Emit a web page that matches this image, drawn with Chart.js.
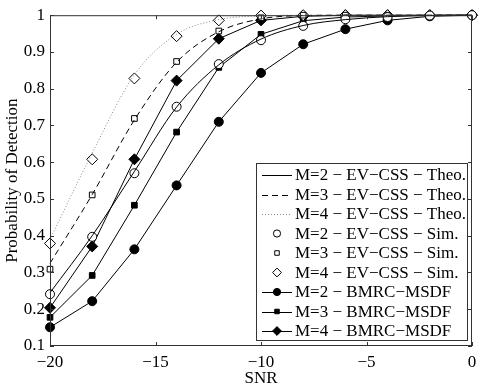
<!DOCTYPE html>
<html>
<head>
<meta charset="utf-8">
<script src="https://cdn.jsdelivr.net/npm/chart.js@4.4.1/dist/chart.umd.min.js"></script>
<style>
  html, body { margin: 0; padding: 0; background: #fff; }
  #wrap { width: 483px; height: 387px; position: relative; }
</style>
</head>
<body>
<div id="wrap"><canvas id="pdChart"></canvas></div>
<script>
// ---- data ----
const snr = [-20, -18, -16, -14, -12, -10, -8, -6, -4, -2, 0];

const theoM2 = [0.245, 0.400, 0.575, 0.750, 0.865, 0.935, 0.972, 0.988, 0.996, 0.999, 1.0];
const theoM3 = [0.325, 0.512, 0.715, 0.872, 0.955, 0.990, 0.999, 1.0, 1.0, 1.0, 1.0];
const theoM4 = [0.390, 0.625, 0.838, 0.948, 0.988, 0.998, 1.0, 1.0, 1.0, 1.0, 1.0];

const simM2 = [0.241, 0.397, 0.570, 0.751, 0.867, 0.932, 0.971, 0.989, 0.995, 0.999, 1.0];
const simM3 = [0.309, 0.511, 0.719, 0.874, 0.957, 0.993, 1.0, 1.0, 1.0, 1.0, 1.0];
const simM4 = [0.379, 0.608, 0.828, 0.943, 0.986, 0.999, 1.0, 1.0, 1.0, 1.0, 1.0];

const bmrcM2 = [0.151, 0.222, 0.363, 0.537, 0.710, 0.843, 0.921, 0.962, 0.986, 0.997, 1.0];
const bmrcM3 = [0.178, 0.292, 0.483, 0.682, 0.858, 0.948, 0.985, 0.995, 0.998, 1.0, 1.0];
const bmrcM4 = [0.204, 0.371, 0.608, 0.822, 0.936, 0.986, 0.997, 1.0, 1.0, 1.0, 1.0];

const xTicks = [-20, -15, -10, -5, 0];
const yTicks = [0.1, 0.2, 0.3, 0.4, 0.5, 0.6, 0.7, 0.8, 0.9, 1];

const seriesLabels = [
    'M=2 \u2212 EV\u2212CSS \u2212 Theo.',
    'M=3 \u2212 EV\u2212CSS \u2212 Theo.',
    'M=4 \u2212 EV\u2212CSS \u2212 Theo.',
    'M=2 \u2212 EV\u2212CSS \u2212 Sim.',
    'M=3 \u2212 EV\u2212CSS \u2212 Sim.',
    'M=4 \u2212 EV\u2212CSS \u2212 Sim.',
    'M=2 \u2212 BMRC\u2212MSDF',
    'M=3 \u2212 BMRC\u2212MSDF',
    'M=4 \u2212 BMRC\u2212MSDF'
];

const FONT = '"Liberation Serif", "Times New Roman", serif';
const FSIZE = 17;
const toXY = arr => snr.map((x, i) => ({ x: x, y: arr[i] }));
const minus = s => String(s).replace('-', '\u2212');

function theo(label, arr, color, dash) {
    return {
        label, data: toXY(arr),
        borderColor: color, borderWidth: 1, borderDash: dash,
        pointRadius: 0, fill: false, cubicInterpolationMode: 'monotone', clip: false
    };
}
function sim(label, arr, style, r) {
    return {
        label, data: toXY(arr), showLine: false,
        pointStyle: style, pointRadius: r, pointBorderWidth: 1,
        pointBorderColor: '#000', pointBackgroundColor: '#fff', clip: false
    };
}
function bmrc(label, arr, style, r) {
    return {
        label, data: toXY(arr), borderColor: '#000', borderWidth: 1, tension: 0,
        pointStyle: style, pointRadius: r, pointBorderWidth: 1,
        pointBorderColor: '#000', pointBackgroundColor: '#000', clip: false
    };
}

const datasets = [
    theo(seriesLabels[0], theoM2, '#000', []),
    theo(seriesLabels[1], theoM3, '#000', [6, 4]),
    theo(seriesLabels[2], theoM4, '#888', [1, 2]),
    sim(seriesLabels[3], simM2, 'circle', 4.5),
    sim(seriesLabels[4], simM3, 'rect', 4),
    sim(seriesLabels[5], simM4, 'rectRot', 5.5),
    bmrc(seriesLabels[6], bmrcM2, 'circle', 4.5),
    bmrc(seriesLabels[7], bmrcM3, 'rect', 4),
    bmrc(seriesLabels[8], bmrcM4, 'rectRot', 5.5)
];

// frame, inner ticks, axis titles and the boxed legend
const decorPlugin = {
    id: 'decor',
    afterDatasetsDraw(chart) {
        const { ctx, chartArea: a, scales } = chart;
        ctx.save();
        ctx.strokeStyle = '#333';
        ctx.lineWidth = 1;
        ctx.strokeRect(a.left + 0.5, a.top + 0.5, a.right - a.left - 1, a.bottom - a.top - 1);
        ctx.beginPath();
        xTicks.forEach(v => {
            const px = Math.round(scales.x.getPixelForValue(v)) + 0.5;
            ctx.moveTo(px, a.bottom); ctx.lineTo(px, a.bottom - 4);
            ctx.moveTo(px, a.top); ctx.lineTo(px, a.top + 4);
        });
        yTicks.forEach(v => {
            const py = Math.round(scales.y.getPixelForValue(v)) + 0.5;
            ctx.moveTo(a.left, py); ctx.lineTo(a.left + 4, py);
            ctx.moveTo(a.right, py); ctx.lineTo(a.right - 4, py);
        });
        ctx.stroke();

        // axis titles
        ctx.fillStyle = '#000';
        ctx.font = FSIZE + 'px ' + FONT;
        ctx.textAlign = 'center';
        ctx.textBaseline = 'middle';
        ctx.fillText('SNR', (a.left + a.right) / 2, 379);
        ctx.translate(13, (a.top + a.bottom) / 2);
        ctx.rotate(-Math.PI / 2);
        ctx.fillText('Probability of Detection', 0, 0);
        ctx.restore();

        // legend box
        const box = { left: 256, top: 163, right: 467, bottom: 340 };
        ctx.save();
        ctx.fillStyle = '#fff';
        ctx.fillRect(box.left, box.top, box.right - box.left, box.bottom - box.top);
        ctx.strokeStyle = '#333';
        ctx.lineWidth = 1;
        ctx.strokeRect(box.left + 0.5, box.top + 0.5, box.right - box.left, box.bottom - box.top);
        ctx.font = FSIZE + 'px ' + FONT;
        ctx.textAlign = 'left';
        ctx.textBaseline = 'middle';
        chart.data.datasets.forEach((ds, i) => {
            const y = 175 + i * 19.5;
            const x0 = 262, x1 = 292, xm = 277;
            if (ds.showLine !== false) {
                ctx.save();
                ctx.strokeStyle = ds.borderColor;
                ctx.lineWidth = 1;
                ctx.setLineDash(ds.borderDash || []);
                ctx.beginPath();
                ctx.moveTo(x0, Math.round(y) + 0.5);
                ctx.lineTo(x1, Math.round(y) + 0.5);
                ctx.stroke();
                ctx.restore();
            }
            if (ds.pointRadius > 0) {
                ctx.save();
                ctx.strokeStyle = ds.pointBorderColor;
                ctx.fillStyle = ds.pointBackgroundColor;
                Chart.helpers.drawPoint(ctx, {
                    pointStyle: ds.pointStyle,
                    radius: ds.pointRadius * 0.8,
                    borderWidth: 1, rotation: 0
                }, xm, y);
                ctx.restore();
            }
            ctx.fillStyle = '#000';
            ctx.fillText(ds.label, 295, y + 1);
        });
        ctx.restore();
    }
};

new Chart(document.getElementById('pdChart'), {
    type: 'line',
    data: { datasets },
    options: {
        responsive: true,
        maintainAspectRatio: false,
        animation: false,
        layout: { padding: { left: 0, right: 11, top: 15, bottom: 0 } },
        plugins: { legend: { display: false }, tooltip: { enabled: false } },
        scales: {
            x: {
                type: 'linear', min: -20, max: 0,
                afterFit: s => { s.height = 41; },
                afterBuildTicks: s => { s.ticks = xTicks.map(v => ({ value: v })); },
                grid: { display: false, drawTicks: false },
                border: { display: false },
                ticks: {
                    color: '#000', padding: 6,
                    font: { family: FONT, size: FSIZE },
                    callback: v => minus(v)
                }
            },
            y: {
                type: 'linear', min: 0.1, max: 1,
                afterFit: s => { s.width = 50; },
                afterBuildTicks: s => { s.ticks = yTicks.map(v => ({ value: v })); },
                grid: { display: false, drawTicks: false },
                border: { display: false },
                ticks: {
                    color: '#000', padding: 5,
                    font: { family: FONT, size: FSIZE },
                    callback: v => (v === 1 ? '1' : v.toFixed(1))
                }
            }
        }
    },
    plugins: [decorPlugin]
});
</script>
</body>
</html>
